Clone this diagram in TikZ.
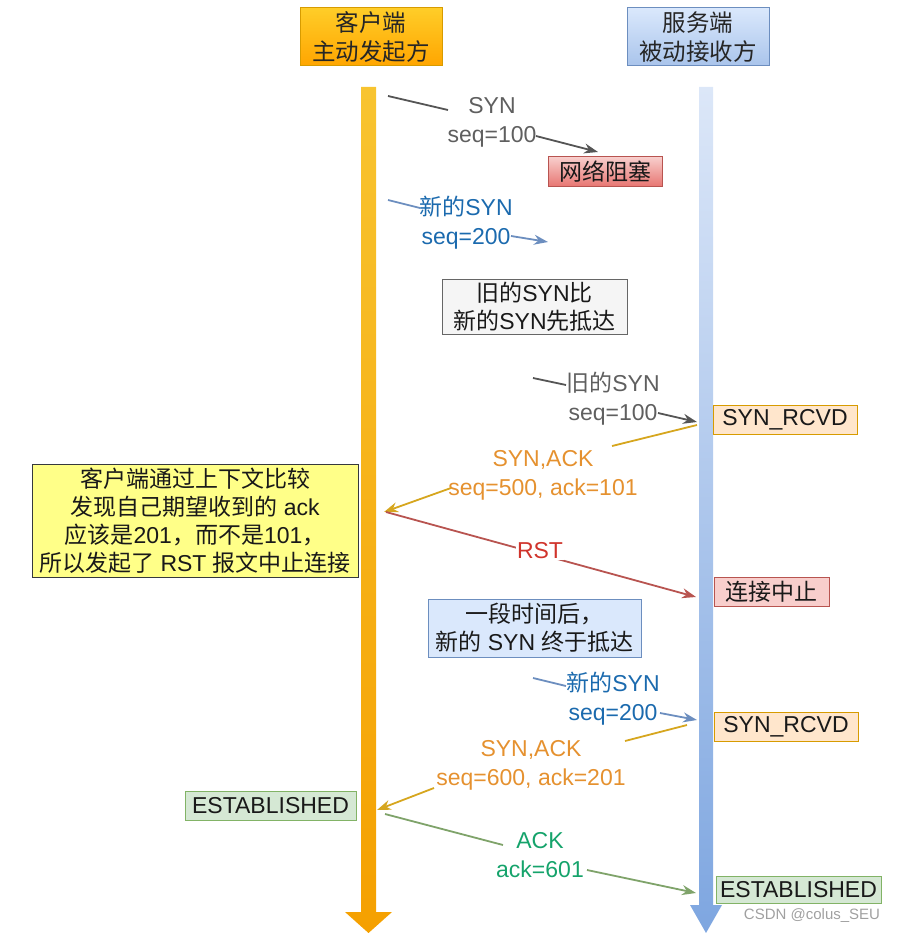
\documentclass[tikz,border=0pt]{standalone}
\usepackage{fontspec}
\setmainfont{Liberation Sans}
\newfontfamily\cjk{Noto Sans CJK SC}
\usetikzlibrary{arrows.meta}
\definecolor{hdrCliTop}{HTML}{FFCD28}
\definecolor{hdrCliBot}{HTML}{FFA500}
\definecolor{hdrCliLine}{HTML}{D79B00}
\definecolor{hdrSrvTop}{HTML}{DAE8FC}
\definecolor{hdrSrvBot}{HTML}{A9C4EB}
\definecolor{hdrSrvLine}{HTML}{6C8EBF}
\definecolor{lifeCliTop}{HTML}{F8C430}
\definecolor{lifeCliBot}{HTML}{F5A000}
\definecolor{lifeSrvTop}{HTML}{DCE7F8}
\definecolor{lifeSrvBot}{HTML}{7EA6E0}
\definecolor{grayTxt}{HTML}{5F5F5F}
\definecolor{grayLine}{HTML}{555555}
\definecolor{blueTxt}{HTML}{1B6AAE}
\definecolor{blueLine}{HTML}{6C8EBF}
\definecolor{orangeTxt}{HTML}{E5912F}
\definecolor{orangeLine}{HTML}{D6A61E}
\definecolor{rstTxt}{HTML}{D0342C}
\definecolor{rstLine}{HTML}{B85450}
\definecolor{greenTxt}{HTML}{15A36B}
\definecolor{greenLine}{HTML}{7FA36A}
\definecolor{redTop}{HTML}{F8CECC}
\definecolor{redBot}{HTML}{E77470}
\definecolor{noteGray}{HTML}{F5F5F5}
\definecolor{noteGrayLine}{HTML}{666666}
\definecolor{peach}{HTML}{FFE6CC}
\definecolor{peachLine}{HTML}{D79B00}
\definecolor{yel}{HTML}{FFFF88}
\definecolor{yelLine}{HTML}{36393D}
\definecolor{pink}{HTML}{F8CECC}
\definecolor{lblue}{HTML}{DAE8FC}
\definecolor{lgreen}{HTML}{D5E8D4}
\definecolor{lgreenLine}{HTML}{82B366}
\definecolor{wm}{HTML}{A0A0A0}
\begin{document}
\begin{tikzpicture}[x=1pt,y=-1pt,
  txt/.style={font=\fontsize{23}{29}\selectfont, align=center, inner sep=0pt},
  hdr/.style={draw, line width=1pt, minimum width=142pt, minimum height=58pt, align=center, inner sep=0pt,
    font=\fontsize{23.5}{29}\selectfont\cjk, text=black!85},
  box/.style={draw, line width=1pt, align=center, inner sep=0pt, text=black!90,
    font=\fontsize{23}{28}\selectfont},
  msg/.style={line width=1.8pt},
  tip/.style={-{Stealth[length=14pt,width=10pt]}}
]
\useasboundingbox (0,0) rectangle (900,933);

% lifelines
\shade[top color=lifeCliTop, bottom color=lifeCliBot]
  (361,87) -- (376,87) -- (376,912) -- (392,912) -- (368.5,933) -- (345,912) -- (361,912) -- cycle;
\shade[top color=lifeSrvTop, bottom color=lifeSrvBot]
  (699,87) -- (713,87) -- (713,905) -- (722,905) -- (706,933) -- (690,905) -- (699,905) -- cycle;

% headers
\node[hdr, top color=hdrCliTop, bottom color=hdrCliBot, draw=hdrCliLine] (client) at (371,37) {客户端\\主动发起方};
\node[hdr, top color=hdrSrvTop, bottom color=hdrSrvBot, draw=hdrSrvLine] (server) at (698,37) {服务端\\被动接收方};

% boxes
\node[box, minimum width=114pt, minimum height=30pt, top color=redTop, bottom color=redBot, draw=rstLine, font=\fontsize{23}{28}\selectfont\cjk] (block) at (605,172) {网络阻塞};
\node[box, minimum width=185pt, minimum height=55pt, fill=noteGray, draw=noteGrayLine] (note1) at (534.5,306.5) {{\cjk 旧的}SYN{\cjk 比}\\{\cjk 新的}SYN{\cjk 先抵达}};
\node[box, minimum width=144pt, minimum height=29pt, fill=peach, draw=peachLine] (rcvd1) at (785,419.5) {SYN\_RCVD};
\node[box, minimum width=326pt, minimum height=113pt, fill=yel, draw=yelLine] (why) at (195,520.5)
  {{\cjk 客户端通过上下文比较}\\{\cjk 发现自己期望收到的} ack\\{\cjk 应该是}201{\cjk ，而不是}101{\cjk ，}\\{\cjk 所以发起了} RST {\cjk 报文中止连接}};
\node[box, minimum width=115pt, minimum height=29pt, fill=pink, draw=rstLine, font=\fontsize{23}{28}\selectfont\cjk] (abort) at (771.5,591.5) {连接中止};
\node[box, minimum width=213pt, minimum height=58pt, fill=lblue, draw=blueLine] (note2) at (534.5,628) {{\cjk 一段时间后，}\\{\cjk 新的} SYN {\cjk 终于抵达}};
\node[box, minimum width=144pt, minimum height=29pt, fill=peach, draw=peachLine] (rcvd2) at (786,726.5) {SYN\_RCVD};
\node[box, minimum width=171pt, minimum height=29pt, fill=lgreen, draw=lgreenLine] (est1) at (270.5,805.5) {ESTABLISHED};
\node[box, minimum width=165pt, minimum height=27pt, fill=lgreen, draw=lgreenLine] (est2) at (798.5,889.5) {ESTABLISHED};

% message 1: old SYN
\node[txt, text=grayTxt] (l1) at (492,122) {SYN\\seq=100};
\coordinate (a1s) at (388,96); \coordinate (a1m) at (448,110);
\coordinate (a1n) at (536,136); \coordinate (a1e) at (598,152);
\draw[msg, grayLine] (a1s) -- (a1m);
\draw[msg, grayLine, tip] (a1n) -- (a1e);

% message 2: new SYN
\node[txt, text=blueTxt] (l2) at (466,222.5) {{\cjk 新的}SYN\\seq=200};
\coordinate (a2s) at (388,200); \coordinate (a2m) at (420,208);
\coordinate (a2n) at (511,236); \coordinate (a2e) at (548,242);
\draw[msg, blueLine] (a2s) -- (a2m);
\draw[msg, blueLine, tip] (a2n) -- (a2e);

% message 3: old SYN arrives
\node[txt, text=grayTxt] (l3) at (613,398.5) {{\cjk 旧的}SYN\\seq=100};
\coordinate (a3s) at (533,378); \coordinate (a3m) at (566,385);
\coordinate (a3n) at (658,413); \coordinate (a3e) at (697,422);
\draw[msg, grayLine] (a3s) -- (a3m);
\draw[msg, grayLine, tip] (a3n) -- (a3e);

% message 4: SYN,ACK 500/101
\node[txt, text=orangeTxt] (l4) at (543,475.5) {SYN,ACK\\seq=500, ack=101};
\coordinate (a4s) at (697,425); \coordinate (a4m) at (612,446);
\coordinate (a4n) at (451,488); \coordinate (a4e) at (384,512);
\draw[msg, orangeLine] (a4s) -- (a4m);
\draw[msg, orangeLine, tip] (a4n) -- (a4e);

% RST
\coordinate (r1s) at (386,512); \coordinate (r1e) at (696,597);
\draw[msg, rstLine, tip] (r1s) -- (r1e);
\node[txt, text=rstTxt, fill=white, inner sep=1pt] (l5) at (540,551) {RST};

% message 6: new SYN arrives
\node[txt, text=blueTxt] (l6) at (613,698.5) {{\cjk 新的}SYN\\seq=200};
\coordinate (a6s) at (533,678); \coordinate (a6m) at (566,686);
\coordinate (a6n) at (660,713); \coordinate (a6e) at (697,720);
\draw[msg, blueLine] (a6s) -- (a6m);
\draw[msg, blueLine, tip] (a6n) -- (a6e);

% message 7: SYN,ACK 600/201
\node[txt, text=orangeTxt] (l7) at (531,765.5) {SYN,ACK\\seq=600, ack=201};
\coordinate (a7s) at (687,725); \coordinate (a7m) at (625,741);
\coordinate (a7n) at (434,788); \coordinate (a7e) at (377,810);
\draw[msg, orangeLine] (a7s) -- (a7m);
\draw[msg, orangeLine, tip] (a7n) -- (a7e);

% message 8: ACK
\node[txt, text=greenTxt] (l8) at (540,855.5) {ACK\\ack=601};
\coordinate (a8s) at (385,814); \coordinate (a8m) at (503,845);
\coordinate (a8n) at (587,870); \coordinate (a8e) at (696,893);
\draw[msg, greenLine] (a8s) -- (a8m);
\draw[msg, greenLine, tip] (a8n) -- (a8e);

% watermark
\node[inner sep=0pt, text=wm, font=\fontsize{15}{18}\selectfont] (wmark) at (812,916) {CSDN @colus\_SEU};
\end{tikzpicture}
\end{document}
